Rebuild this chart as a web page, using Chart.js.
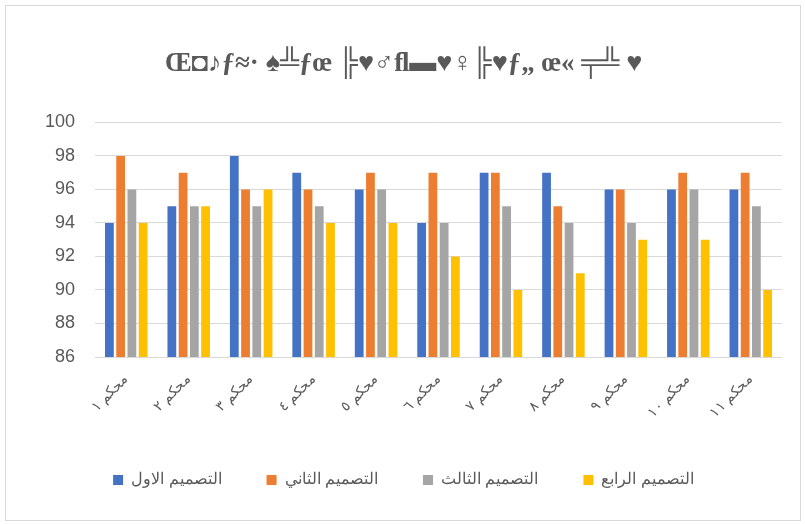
<!DOCTYPE html>
<html>
<head>
<meta charset="utf-8">
<script src="https://cdn.jsdelivr.net/npm/chart.js@4"></script>
<style>
  body { margin: 0; background: #fff; }
  #wrap { position: absolute; left: 5px; top: 5px; width: 794px; height: 514px; border: 1px solid #d9d9d9; }
</style>
</head>
<body>
<div id="wrap"><canvas id="myChart"></canvas></div>
<script>
const ctx = document.getElementById('myChart').getContext('2d');

const judulGrafik = 'Œ◘♪ƒ≈· ♠╩ƒœ ╠♥♂ﬂ▬♥♀╠♥ƒ„ œ« ╤╩ ♥';
const kategori = ['محكم ١', 'محكم ٢', 'محكم ٣', 'محكم ٤', 'محكم ٥', 'محكم ٦', 'محكم ٧', 'محكم ٨', 'محكم ٩', 'محكم ١٠', 'محكم ١١'];
const desainPertama = [94, 95, 98, 97, 96, 94, 97, 97, 96, 96, 96];
const desainKedua = [98, 97, 96, 96, 97, 97, 97, 95, 96, 97, 97];
const desainKetiga = [96, 95, 95, 95, 96, 94, 95, 94, 94, 96, 95];
const desainKeempat = [94, 95, 96, 94, 94, 92, 90, 91, 93, 93, 90];
const tickY = [86, 88, 90, 92, 94, 96, 98, 100];

const warnaTeks = '#595959';

const data = {
    labels: kategori,
    datasets: [
        { label: 'التصميم الاول', data: desainPertama, backgroundColor: '#4472c4' },
        { label: 'التصميم الثاني', data: desainKedua, backgroundColor: '#ed7d31' },
        { label: 'التصميم الثالث', data: desainKetiga, backgroundColor: '#a5a5a5' },
        { label: 'التصميم الرابع', data: desainKeempat, backgroundColor: '#ffc000' }
    ]
};

const config = {
    type: 'bar',
    data: data,
    options: {
        responsive: true,
        maintainAspectRatio: false,
        animation: false,
        categoryPercentage: 0.72,
        barPercentage: 0.78,
        layout: { padding: { left: 19, right: 18, top: 42, bottom: 22 } },
        scales: {
            x: {
                grid: { display: false },
                border: { display: false },
                ticks: {
                    color: warnaTeks,
                    font: { family: 'Liberation Sans', size: 14 },
                    minRotation: 45,
                    maxRotation: 45,
                    padding: 6
                }
            },
            y: {
                min: tickY[0],
                max: tickY[tickY.length - 1],
                grid: { color: '#d9d9d9', drawTicks: false },
                border: { display: false },
                afterBuildTicks: (axis) => { axis.ticks = tickY.map(v => ({ value: v })); },
                ticks: {
                    color: warnaTeks,
                    font: { family: 'Liberation Sans', size: 18 },
                    padding: 20
                }
            }
        },
        plugins: {
            title: {
                display: true,
                text: judulGrafik,
                color: warnaTeks,
                font: { family: 'Liberation Serif', size: 27, weight: 'bold' },
                padding: { top: 0, bottom: 42 }
            },
            legend: {
                display: true,
                position: 'bottom',
                labels: {
                    color: warnaTeks,
                    font: { family: 'Liberation Sans', size: 16 },
                    boxWidth: 10,
                    boxHeight: 10,
                    padding: 45
                }
            },
            tooltip: { enabled: false }
        }
    }
};

const myChart = new Chart(ctx, config);
</script>
</body>
</html>
